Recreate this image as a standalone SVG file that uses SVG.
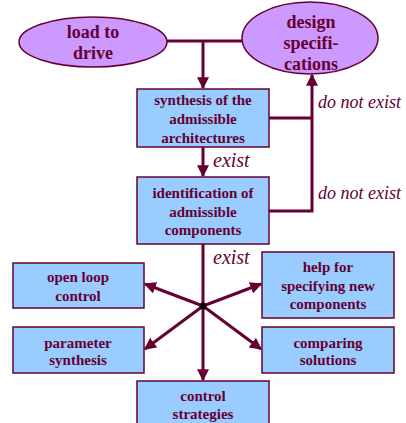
<svg xmlns="http://www.w3.org/2000/svg" width="406" height="423" viewBox="0 0 406 423">
<defs>
<style>
.ell{fill:#cc99ff;stroke:#660033;stroke-width:1.5}
.box{fill:#99ccff;stroke:#660033;stroke-width:1.5}
.t{font-family:"Liberation Serif",serif;font-weight:bold;fill:#660033;text-anchor:middle}
.big{font-size:18px}
.sm{font-size:15px}
.lbl{font-family:"Liberation Serif",serif;font-style:italic;fill:#660033}
.ln{fill:none;stroke:#660033;stroke-width:3}
</style>
<marker id="ah" viewBox="0 0 10 10" refX="9" refY="5" markerWidth="4" markerHeight="4" orient="auto" markerUnits="strokeWidth">
<path d="M0,0 L10,5 L0,10 z" fill="#660033"/>
</marker>
</defs>
<rect width="406" height="423" fill="#ffffff"/>
<g id="connectors">
<path class="ln" d="M167,41 H242"/>
<path class="ln" d="M203,41 V88" marker-end="url(#ah)"/>
<path class="ln" d="M203,147 V176" marker-end="url(#ah)"/>
<path class="ln" d="M269,118 H312"/>
<path class="ln" d="M269,211 H312 V75" marker-end="url(#ah)"/>
<path class="ln" d="M203,244 V380" marker-end="url(#ah)"/>
<path class="ln" d="M203,306 L145,284" marker-end="url(#ah)"/>
<path class="ln" d="M203,306 L261,284" marker-end="url(#ah)"/>
<path class="ln" d="M203,306 L145,349" marker-end="url(#ah)"/>
<path class="ln" d="M203,306 L261,349" marker-end="url(#ah)"/>
<circle cx="203" cy="306" r="3.5" fill="#000"/>
<text class="lbl" x="318" y="108" font-size="18">do not exist</text>
<text class="lbl" x="318" y="199" font-size="18">do not exist</text>
<text class="lbl" x="213" y="167" font-size="20">exist</text>
<text class="lbl" x="213" y="264" font-size="20">exist</text>
</g>
<g id="load">
<ellipse class="ell" cx="93" cy="42" rx="74" ry="25"/>
<text class="t big" x="93" y="38">load to</text>
<text class="t big" x="93" y="59">drive</text>
</g>
<g id="design">
<ellipse class="ell" cx="310" cy="38" rx="68" ry="36"/>
<text class="t big" x="311" y="28">design</text>
<text class="t big" x="311" y="49">specifi-</text>
<text class="t big" x="311" y="70">cations</text>
</g>
<g id="synthesis">
<rect class="box" x="137" y="89" width="132" height="58"/>
<text class="t sm" x="203" y="105">synthesis of the</text>
<text class="t sm" x="203" y="124">admissible</text>
<text class="t sm" x="203" y="143">architectures</text>
</g>
<g id="identification">
<rect class="box" x="137" y="177" width="132" height="67"/>
<text class="t sm" x="203" y="198">identification of</text>
<text class="t sm" x="203" y="217">admissible</text>
<text class="t sm" x="203" y="235">components</text>
</g>
<g id="openloop">
<rect class="box" x="13" y="263" width="131" height="45"/>
<text class="t sm" x="78" y="282">open loop</text>
<text class="t sm" x="78" y="301">control</text>
</g>
<g id="parameter">
<rect class="box" x="13" y="327" width="131" height="46"/>
<text class="t sm" x="78" y="348">parameter</text>
<text class="t sm" x="78" y="365">synthesis</text>
</g>
<g id="help">
<rect class="box" x="262" y="252" width="132" height="66"/>
<text class="t sm" x="328" y="272">help for</text>
<text class="t sm" x="328" y="291">specifying new</text>
<text class="t sm" x="328" y="309">components</text>
</g>
<g id="comparing">
<rect class="box" x="262" y="327" width="132" height="46"/>
<text class="t sm" x="328" y="348">comparing</text>
<text class="t sm" x="328" y="365">solutions</text>
</g>
<g id="control">
<rect class="box" x="137" y="381" width="132" height="50"/>
<text class="t sm" x="203" y="401">control</text>
<text class="t sm" x="203" y="419">strategies</text>
</g>
</svg>
